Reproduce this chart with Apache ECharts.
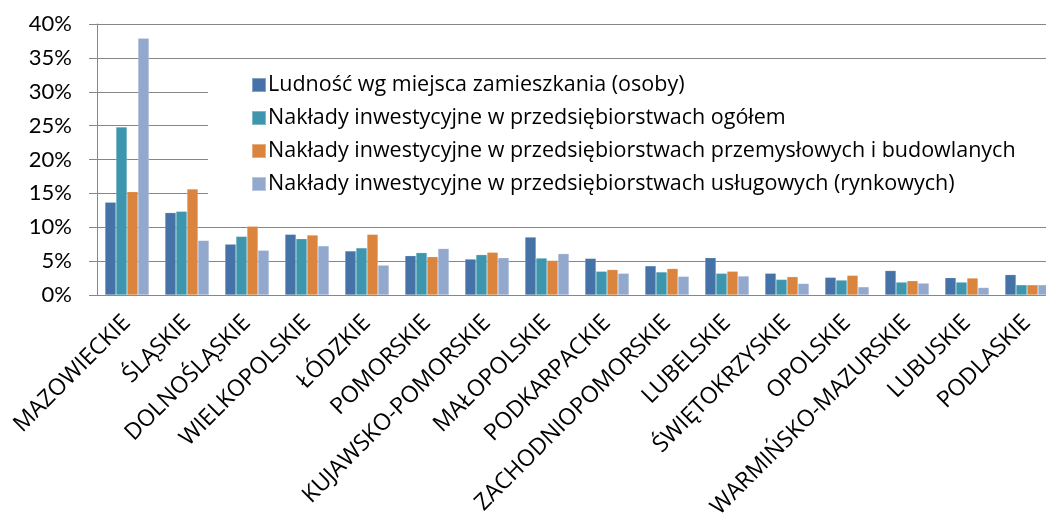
<!DOCTYPE html>
<html>
<head>
<meta charset="utf-8">
<script src="https://cdn.jsdelivr.net/npm/echarts@6/dist/echarts.min.js"></script>
<style>
html,body{margin:0;padding:0;background:#fff;}
#chart{width:1046px;height:523px;}
</style>
</head>
<body>
<div id="chart"></div>
<script>
var categories = ['MAZOWIECKIE','ŚLĄSKIE','DOLNOŚLĄSKIE','WIELKOPOLSKIE','ŁÓDZKIE','POMORSKIE','KUJAWSKO-POMORSKIE','MAŁOPOLSKIE','PODKARPACKIE','ZACHODNIOPOMORSKIE','LUBELSKIE','ŚWIĘTOKRZYSKIE','OPOLSKIE','WARMIŃSKO-MAZURSKIE','LUBUSKIE','PODLASKIE'];
var seriesNames = ['Ludność wg miejsca zamieszkania (osoby)','Nakłady inwestycyjne w przedsiębiorstwach ogółem','Nakłady inwestycyjne w przedsiębiorstwach przemysłowych i budowlanych','Nakłady inwestycyjne w przedsiębiorstwach usługowych (rynkowych)'];
var ludnosc   = [13.7, 12.15, 7.5, 8.95, 6.5, 5.8, 5.3, 8.55, 5.4, 4.3, 5.5, 3.2, 2.6, 3.6, 2.55, 3.0];
var ogolem    = [24.8, 12.35, 8.65, 8.3, 6.95, 6.25, 5.95, 5.45, 3.5, 3.4, 3.2, 2.3, 2.2, 1.9, 1.9, 1.5];
var przemysl  = [15.25, 15.65, 10.15, 8.85, 8.95, 5.65, 6.3, 5.1, 3.75, 3.9, 3.5, 2.7, 2.9, 2.1, 2.5, 1.5];
var uslugi    = [37.9, 8.05, 6.6, 7.25, 4.4, 6.85, 5.5, 6.1, 3.2, 2.75, 2.8, 1.7, 1.2, 1.75, 1.1, 1.5];
var yTicks = {min: 0, max: 40, interval: 5};
var colors = ['#4572A7','#3D96AE','#DB843D','#92A8CD'];

var FONT = '"Open Sans"';
var chart = echarts.init(document.getElementById('chart'));
var dataSets = [ludnosc, ogolem, przemysl, uslugi];
var series = dataSets.map(function(d, i){
  return {
    name: seriesNames[i],
    type: 'bar',
    data: d,
    barWidth: 11,
    barGap: '0%',
    itemStyle: {color: colors[i], borderColor: 'rgba(255,255,255,0.35)', borderWidth: 0.5},
    emphasis: {disabled: true}
  };
});
chart.setOption({
  animation: false,
  color: colors,
  grid: {left: 97, top: 24, right: -11, bottom: 228, containLabel: false, outerBoundsMode: 'none'},
  legend: {
    orient: 'vertical',
    left: 208, top: 62,
    padding: [12, 120, 10, 43],
    backgroundColor: '#ffffff',
    itemWidth: 14, itemHeight: 14, itemGap: 11,
    icon: 'rect',
    textStyle: {fontFamily: FONT, fontSize: 21.5, color: '#000', lineHeight: 20, padding: [0,0,0,-3]},
    data: seriesNames
  },
  xAxis: {
    type: 'category',
    data: categories,
    axisLine: {lineStyle: {color: '#868686', width: 1}},
    axisTick: {length: 8, lineStyle: {color: '#868686'}},
    axisLabel: {rotate: 45, margin: 24, interval: 0, fontFamily: FONT, fontSize: 23, color: '#000'}
  },
  yAxis: {
    type: 'value',
    min: yTicks.min, max: yTicks.max, interval: yTicks.interval,
    axisLine: {show: true, lineStyle: {color: '#868686', width: 1}},
    axisTick: {show: true, length: 8, lineStyle: {color: '#868686'}},
    splitLine: {lineStyle: {color: '#868686', width: 1}},
    axisLabel: {formatter: '{value}%', margin: 25, fontFamily: 'Lato', fontSize: 22, color: '#000'}
  },
  series: series
});
</script>
</body>
</html>
